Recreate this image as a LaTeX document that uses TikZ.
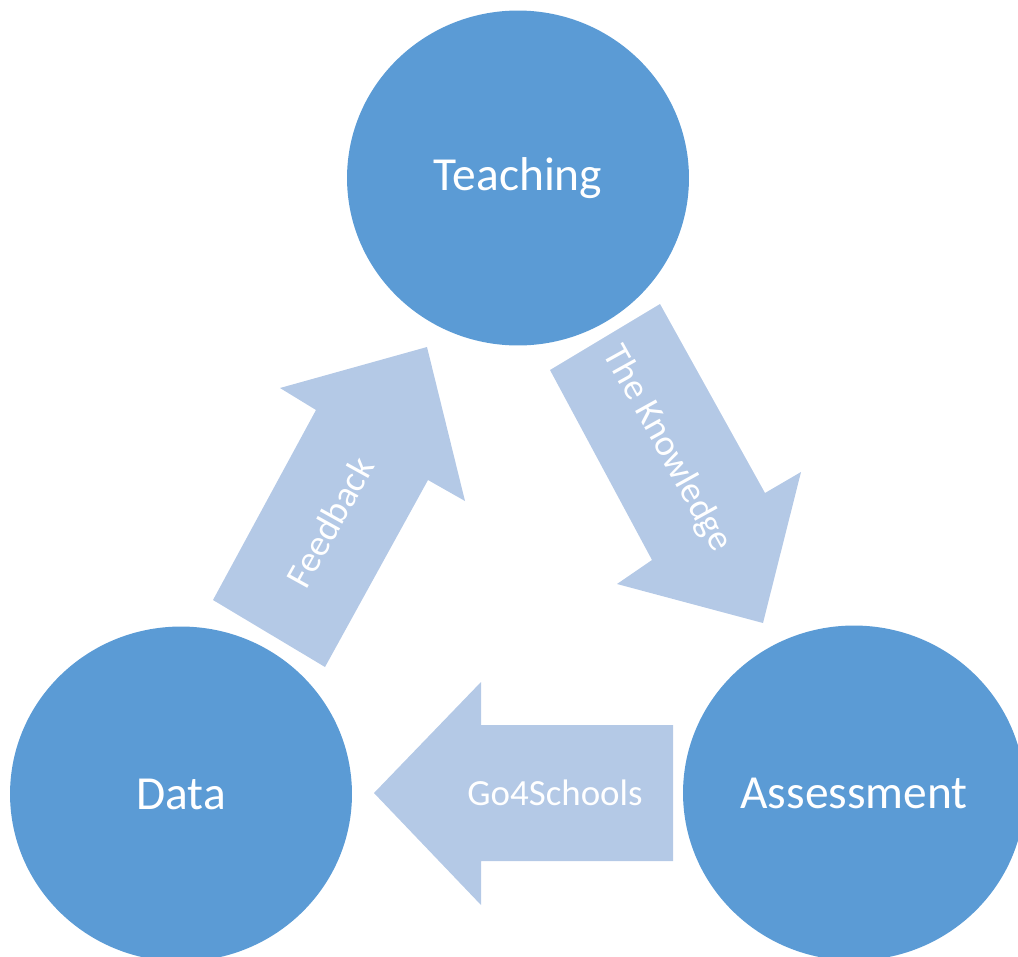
\documentclass[tikz,border=0pt]{standalone}
\usepackage{fontspec}
\setmainfont{Carlito}
\usepackage{xcolor}
\usetikzlibrary{shapes,positioning,calc}
\definecolor{hubblue}{HTML}{5B9BD5}
\definecolor{arrowblue}{HTML}{B4C9E6}

\begin{document}
\begin{tikzpicture}[x=0.02cm, y=-0.02cm,
        hub/.style={ellipse, fill=hubblue, minimum width=6.84cm, minimum height=6.7cm, text=white, font=\fontsize{27}{32}\selectfont},
        flow/.style={text=white, font=\fontsize{21}{25}\selectfont}]
        \useasboundingbox (0,0) rectangle (1018,957);
        \clip (0,0) rectangle (1018,957);
        \foreach \pos/\name/\txt in {{(518,178)}/teach/Teaching,{(181,794)}/data/Data,{(854,793)}/assess/Assessment}{\node[hub] (\name) at \pos {\txt};}
       \fill[arrowblue] (550,370) -- (660,304) -- (765,493) -- (801,472) -- (763,623) -- (617,584) -- (652,560) -- cycle;
       \fill[arrowblue] (673,725) -- (481,725) -- (481,682) -- (374,793) -- (481,905) -- (481,861) -- (673,861) -- cycle;
       \fill[arrowblue] (213,600) -- (316,410) -- (280,388) -- (427,347) -- (465,501) -- (428,480) -- (325,667) -- cycle;
       \node[flow, rotate=-61] (know) at (667,449) {The Knowledge};
       \node[flow] (go4) at (555,793) {Go4Schools};
       \node[flow, rotate=61] (feed) at (330,522) {Feedback};
    \end{tikzpicture}
\end{document}
